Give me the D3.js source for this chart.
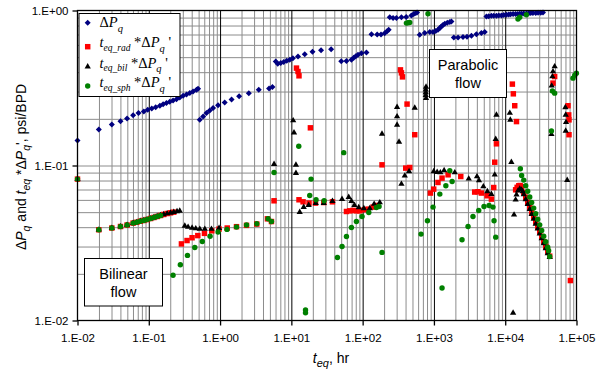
<!DOCTYPE html>
<html>
<head>
<meta charset="utf-8">
<script src="https://cdn.jsdelivr.net/npm/d3@7"></script>
<style>
  body { margin: 0; background: #fff; }
  svg { display: block; }
</style>
</head>
<body>
<svg id="chart" width="603" height="375"></svg>
<script>
// Pressure change normalised by rate, ΔPq (psi/BPD) vs equivalent time (hr)
const dpq = [
  [0.01,0.145],[0.0199,0.1705],[0.0303,0.184],[0.0401,0.193],[0.0496,0.201],[0.0603,0.211],[0.0717,0.218],
  [0.0851,0.223],[0.0968,0.229],[0.110,0.233],[0.125,0.238],[0.143,0.243],[0.159,0.248],[0.177,0.253],
  [0.197,0.258],[0.219,0.263],[0.245,0.268],[0.272,0.275],[0.303,0.282],[0.338,0.287],[0.376,0.294],
  [0.418,0.300],[0.467,0.308],[0.491,0.313],
  [0.519,0.197],[0.578,0.207],[0.645,0.218],[0.717,0.226],[0.798,0.235],[0.937,0.245],[1.16,0.255],
  [1.45,0.267],[1.85,0.280],[2.53,0.293],[3.49,0.308],[4.87,0.314],[5.43,0.321],
  [6.04,0.469],[6.44,0.453],[7.10,0.458],[7.82,0.465],[8.62,0.474],[9.50,0.481],[10.5,0.492],[12.4,0.504],
  [15.4,0.523],[19.8,0.541],[26.1,0.554],[36.1,0.562],
  [50.1,0.470],[59.3,0.472],[69.6,0.482],[75.0,0.495],[80.0,0.506],[86.1,0.518],[96.2,0.530],[113,0.536],
  [133,0.704],[160,0.699],[181,0.701],[204,0.713],[220,0.734],[232,0.751],
  [240,0.904],[267,0.895],[298,0.895],[350,0.904],[408,0.907],[483,0.929],[521,0.948],[556,0.962],[580,0.971],
  [632,0.697],[743,0.715],[873,0.726],[971,0.726],[1060,0.738],[1140,0.751],[1210,0.770],[1270,0.788],
  [1340,0.805],[1420,0.821],[1540,0.833],[1670,0.842],[1760,0.849],
  [1900,0.669],[2180,0.669],[2560,0.674],[2910,0.677],[3360,0.687],[3940,0.704],[4630,0.715],[5160,0.726],
  [5450,0.915],[5870,0.918],[6400,0.925],[6900,0.925],[7530,0.925],[8110,0.927],[8850,0.929],[9530,0.934],
  [10400,0.938],[11200,0.941],[11900,0.945],[12900,0.948],[14000,0.950],[15000,0.951],[16000,0.952],
  [17000,0.954],[18200,0.955],[19800,0.957],[21400,0.960],[22800,0.962],[24500,0.962],[26800,0.964],
  [28900,0.967],[31500,0.967],[33900,0.970]
];

// Derivative with radial-flow equivalent time
const radDeriv = [
  [0.01,0.0817],[0.0199,0.0385],[0.0303,0.0395],[0.0401,0.0404],[0.0496,0.0413],[0.0603,0.0425],[0.0679,0.0430],
  [0.0760,0.0437],[0.0851,0.0442],[0.0946,0.0448],[0.106,0.0455],[0.118,0.0462],[0.131,0.0469],[0.146,0.0476],
  [0.162,0.0483],[0.181,0.0490],[0.202,0.0495],[0.224,0.0500],
  [0.287,0.0312],[0.344,0.0328],[0.405,0.0342],[0.487,0.0353],[0.604,0.0365],[0.765,0.0379],[0.968,0.0389],
  [1.26,0.0395],[1.70,0.0403],[2.35,0.0411],[3.27,0.0419],[4.62,0.0453],[5.26,0.0435],[5.72,0.0592],
  [11.8,0.425],[12.4,0.404],[12.8,0.379],[18.5,0.175],[12.8,0.0601],[14.6,0.0583],[17.7,0.0572],[21.8,0.0572],
  [28.5,0.0577],[37.7,0.0583],[59.3,0.0505],[65.9,0.0510],[73.3,0.0513],[81.8,0.0510],[91.0,0.0510],[105,0.0518],
  [119,0.0523],[140,0.0539],[156,0.0552],[187,0.101],[339,0.414],[350,0.396],[362,0.373],[420,0.249],[538,0.158],
  [402,0.0962],[458,0.0971],[893,0.0664],[993,0.0704],[1140,0.0777],[1300,0.0829],[1580,0.0871],[2380,0.0849],
  [3730,0.0674],[4150,0.0677],[4630,0.0664],[5560,0.0638],[6400,0.0607],[6900,0.0721],[7130,0.105],[7530,0.138],
  [12600,0.335],[13000,0.290],[13600,0.243],[14400,0.192],
  [14000,0.0697],[14700,0.0723],[15500,0.0740],[16200,0.0743],[17000,0.0729],
  [18200,0.0670],[19400,0.0623],[20700,0.0579],[22100,0.0538],[23500,0.0500],[25100,0.0465],[26800,0.0433],
  [28600,0.0402],[30500,0.0374],[32500,0.0348],[34700,0.0323],[37000,0.0301],[39500,0.0280],[42100,0.0260],
  [46800,0.340],[49400,0.375],[76000,0.243],[77800,0.212],[78500,0.197],[78500,0.158],[82100,0.0181]
];

// Derivative with bilinear-flow equivalent time
const bilDeriv = [
  [0.01,0.0817],[0.0199,0.0385],[0.0303,0.0395],[0.0401,0.0404],[0.0496,0.0413],[0.0603,0.0425],[0.0679,0.0430],
  [0.0760,0.0437],[0.0851,0.0442],[0.0946,0.0448],[0.106,0.0455],[0.118,0.0462],[0.131,0.0469],[0.146,0.0476],
  [0.162,0.0483],[0.181,0.0490],[0.202,0.0495],[0.224,0.0500],[0.249,0.0506],[0.272,0.0510],
  [0.320,0.0408],[0.356,0.0401],[0.405,0.0396],[0.456,0.0392],[0.519,0.0389],[0.611,0.0389],[0.757,0.0389],[0.968,0.0394],
  [5.72,0.102],[10.6,0.195],[10.9,0.163],[11.6,0.101],[11.6,0.0893],[13.1,0.0500],[14.9,0.0539],[17.5,0.0555],
  [22.0,0.0572],[28.5,0.0572],[37.7,0.0589],[51.4,0.0607],[63.8,0.0625],[69.6,0.0589],[76.7,0.0555],[88.1,0.0536],
  [104,0.0528],[126,0.0528],[145,0.0564],[174,0.0577],[187,0.160],[304,0.238],[304,0.207],[304,0.183],[324,0.142],
  [350,0.0759],[390,0.0858],[448,0.0915],[538,0.235],[775,0.321],[768,0.308],[768,0.296],[768,0.284],[775,0.272],
  [993,0.0915],[1110,0.0906],[1230,0.0901],[1390,0.0929],[1960,0.0901],[3080,0.0821],[4020,0.0849],[4290,0.0800],
  [4940,0.0732],[5620,0.0680],[6400,0.0654],[7130,0.0871],[7360,0.148],[7530,0.212],[11600,0.218],[11800,0.197],
  [12200,0.105],[12900,0.0112],[13300,0.0481],[14000,0.0601],
  [14400,0.0647],[15100,0.0687],[16000,0.0707],[16900,0.0697],[17600,0.0680],
  [18200,0.0650],[19400,0.0604],[20700,0.0562],[22100,0.0523],[23500,0.0486],[25100,0.0452],[26800,0.0420],
  [28600,0.0391],[30500,0.0363],[32500,0.0338],[34700,0.0314],[37000,0.0292],[39500,0.0271],[42100,0.0256],
  [44500,0.159],[44900,0.327],[45900,0.375],[46800,0.404],[49400,0.435],[69800,0.237],[70600,0.212],[71300,0.190],
  [70600,0.167],[74100,0.0805]
];

// Derivative with spherical-flow equivalent time
const sphDeriv = [
  [0.01,0.0817],[0.0199,0.0385],[0.0303,0.0395],[0.0401,0.0404],[0.0496,0.0413],[0.0603,0.0425],[0.0679,0.0430],
  [0.0760,0.0437],[0.0851,0.0442],[0.0946,0.0448],[0.106,0.0455],[0.118,0.0462],[0.131,0.0469],[0.146,0.0476],
  [0.219,0.0196],[0.277,0.0229],[0.349,0.0263],[0.442,0.0296],[0.563,0.0323],[0.724,0.0350],[0.937,0.0372],
  [1.25,0.0387],[1.70,0.0401],[2.35,0.0413],[3.27,0.0421],[4.71,0.0453],[5.26,0.0435],[5.72,0.0901],
  [12.7,0.133],[15.8,0.0117],[15.8,0.0112],[18.1,0.0640],[18.9,0.0817],[22.2,0.0601],[28.8,0.0592],[44.3,0.0255],
  [51.4,0.0300],[54.3,0.121],[59.3,0.0348],[69.6,0.0398],[81.8,0.0435],[98.1,0.0469],[122,0.0497],[156,0.0536],
  [170,0.0544],[187,0.0275],[411,0.829],[433,0.833],[458,0.837],[659,0.0361],[811,0.0440],[826,0.952],[971,0.0539],
  [1210,0.0654],[1300,0.0162],[1470,0.0740],[1670,0.0925],[1800,0.0788],[2480,0.0332],[3010,0.0404],[3530,0.0469],
  [4250,0.0513],[5040,0.0544],[5930,0.0552],[6740,0.0539],[6970,0.0440],[7360,0.0345],[15100,0.881],[16000,0.906],
  [19800,0.938],
  [16300,0.0952],[17000,0.0862],[18200,0.0805],[19400,0.0741],[20700,0.0682],[22100,0.0627],[23500,0.0577],
  [25100,0.0531],[26800,0.0489],[28600,0.0450],[30500,0.0414],[32500,0.0381],[34700,0.0350],[37000,0.0322],
  [39500,0.0297],[40700,0.0282],[42100,0.0259],
  [44500,0.167],[45900,0.303],[49400,0.293],[89300,0.366],[94400,0.382],[99700,0.394]
];

const xTickValues = [1e-2, 1e-1, 1e0, 1e1, 1e2, 1e3, 1e4, 1e5];
const xTickLabels = ["1.E-02", "1.E-01", "1.E+00", "1.E+01", "1.E+02", "1.E+03", "1.E+04", "1.E+05"];
const yTickValues = [1e-2, 1e-1, 1e0];
const yTickLabels = ["1.E-02", "1.E-01", "1.E+00"];

const svg = d3.select("#chart");
const plotL = 77.5, plotR = 576.5, plotT = 10.5, plotB = 320.5;
const x = d3.scaleLog().domain([1e-2, 1e5]).range([plotL, plotR]);
const y = d3.scaleLog().domain([1e-2, 1]).range([plotB, plotT]);
const sans = "'Liberation Sans', Arial, sans-serif";
const serif = "'Liberation Serif', 'Times New Roman', serif";

// minor grid values (2..9 in every decade)
const minorX = [], minorY = [];
for (let k = -2; k < 5; k++) for (let m = 2; m <= 9; m++) minorX.push(m * Math.pow(10, k));
for (let k = -2; k < 0; k++) for (let m = 2; m <= 9; m++) minorY.push(m * Math.pow(10, k));

function grid(g, color) {
  g.select(".domain").remove();
  g.selectAll("line").attr("stroke", color).attr("stroke-width", 1);
}
svg.append("g").attr("transform", `translate(0,${plotB})`)
  .call(d3.axisBottom(x).tickValues(minorX).tickSize(-(plotB - plotT)).tickFormat(""))
  .call(g => grid(g, "#8c8c8c"));
svg.append("g").attr("transform", `translate(${plotL},0)`)
  .call(d3.axisLeft(y).tickValues(minorY.concat([0.1])).tickSize(-(plotR - plotL)).tickFormat(""))
  .call(g => grid(g, "#8c8c8c"));
svg.append("g").attr("transform", `translate(0,${plotB})`)
  .call(d3.axisBottom(x).tickValues(xTickValues.slice(1, -1)).tickSize(-(plotB - plotT)).tickFormat(""))
  .call(g => grid(g, "#000"));

// series markers
const diamond = d3.symbol().type(d3.symbolSquare).size(18)();
const square = d3.symbol().type(d3.symbolSquare).size(30)();
const tri = d3.symbol().type(d3.symbolTriangle).size(17)();
const circ = d3.symbol().type(d3.symbolCircle).size(23)();

function plot(data, path, color, rot) {
  svg.append("g").selectAll("path").data(data).join("path")
    .attr("d", path)
    .attr("fill", color)
    .attr("transform", d => `translate(${x(d[0])},${y(d[1])})${rot ? " rotate(45)" : ""}`);
}
plot(dpq, diamond, "#000080", true);
plot(radDeriv, square, "#ff0000");
plot(bilDeriv, tri, "#000000");
plot(sphDeriv, circ, "#008000");

// frame
svg.append("rect").attr("x", plotL).attr("y", plotT).attr("width", plotR - plotL).attr("height", plotB - plotT)
  .attr("fill", "none").attr("stroke", "#000").attr("stroke-width", 1.3);

// axes with tick labels
const xAxis = svg.append("g").attr("transform", `translate(0,${plotB})`)
  .call(d3.axisBottom(x).tickValues(xTickValues).tickSize(5).tickSizeOuter(0).tickPadding(8)
    .tickFormat((d, i) => xTickLabels[i]));
xAxis.select(".domain").remove();
xAxis.selectAll("line").attr("stroke", "#000").attr("stroke-width", 1.3);
xAxis.selectAll("text").style("font", `11.5px ${sans}`).attr("fill", "#000");

const yAxis = svg.append("g").attr("transform", `translate(${plotL},0)`)
  .call(d3.axisLeft(y).tickValues(yTickValues).tickSize(5).tickSizeOuter(0).tickPadding(4)
    .tickFormat((d, i) => yTickLabels[i]));
yAxis.select(".domain").remove();
yAxis.selectAll("line").attr("stroke", "#000").attr("stroke-width", 1.3);
yAxis.selectAll("text").style("font", `11.5px ${sans}`).attr("fill", "#000");

// rich text helper: each part may be italic, shifted (sub) and resized
function rich(textSel, parts, base) {
  let shift = 0;
  parts.forEach(p => {
    const t = textSel.append("tspan").text(p.t);
    const target = p.sub ? p.sub : 0;
    if (target !== shift) { t.attr("dy", target - shift); shift = target; }
    t.style("font-size", (p.size || base) + "px");
    if (p.i) t.style("font-style", "italic");
  });
}

// axis titles
const xt = svg.append("text").attr("x", 331).attr("y", 363).attr("text-anchor", "middle")
  .style("font-family", sans).style("font-size", "14px");
rich(xt, [{t: "t", i: true}, {t: "eq", i: true, sub: 4, size: 11}, {t: ", hr"}], 14);

const yt = svg.append("text").attr("transform", "translate(26,167) rotate(-90)").attr("text-anchor", "middle")
  .style("font-family", sans).style("font-size", "14px");
rich(yt, [
  {t: "Δ"}, {t: "P", i: true}, {t: "q", i: true, sub: 4, size: 10.5},
  {t: "  and  "}, {t: "t", i: true}, {t: "eq", i: true, sub: 4, size: 10.5},
  {t: " *Δ"}, {t: "P", i: true}, {t: "q", i: true, sub: 4, size: 10.5}, {t: "', psi/BPD"}
], 14);

// legend
const lg = svg.append("g");
lg.append("rect").attr("x", 79).attr("y", 13.5).attr("width", 101).attr("height", 83)
  .attr("fill", "#fff").attr("stroke", "#000").attr("stroke-width", 1);
const legendRows = [
  {path: diamond, color: "#000080", rot: true, sy: 22.7, by: 27.3, sub: null},
  {path: square, color: "#ff0000", sy: 46.7, by: 47, sub: "eq_rad"},
  {path: tri, color: "#000000", sy: 66.7, by: 67.5, sub: "eq_bil"},
  {path: circ, color: "#008000", sy: 86, by: 87, sub: "eq_sph"}
];
legendRows.forEach(r => {
  lg.append("path").attr("d", r.path).attr("fill", r.color)
    .attr("transform", `translate(87.7,${r.sy})${r.rot ? " rotate(45)" : ""}`);
  const t = lg.append("text").attr("x", 99.5).attr("y", r.by).style("font-family", serif).style("font-size", "14.5px");
  if (!r.sub) {
    rich(t, [{t: "Δ"}, {t: "P", i: true}, {t: "q", i: true, sub: 5, size: 10.5}], 14.5);
  } else {
    rich(t, [
      {t: "t", i: true}, {t: r.sub, i: true, sub: 3.5, size: 9.5},
      {t: " *Δ"}, {t: "P", i: true}, {t: "q", i: true, sub: 4.5, size: 10.5}, {t: " '"}
    ], 14.5);
  }
});

// flow-regime annotation boxes
function note(bx, by, bw, bh, cx, lines) {
  const g = svg.append("g");
  g.append("rect").attr("x", bx).attr("y", by).attr("width", bw).attr("height", bh)
    .attr("fill", "#fff").attr("stroke", "#000").attr("stroke-width", 1);
  lines.forEach(l => g.append("text").attr("x", cx).attr("y", l.y).attr("text-anchor", "middle")
    .style("font", `14.5px ${sans}`).text(l.t));
}
note(429.5, 49.5, 77, 48, 468, [{t: "Parabolic", y: 70}, {t: "flow", y: 88.3}]);
note(84.5, 258.5, 78, 47.5, 123.5, [{t: "Bilinear", y: 279}, {t: "flow", y: 297.3}]);
</script>
</body>
</html>
